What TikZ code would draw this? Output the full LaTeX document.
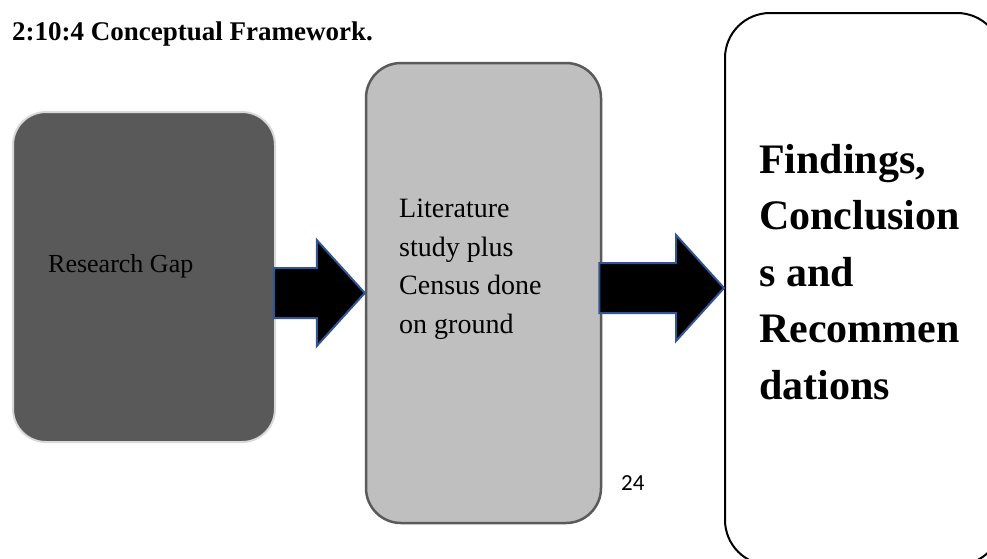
\documentclass[tikz,border=0pt]{standalone}
\usepackage{fontspec}
\setmainfont{Liberation Serif}
\newfontfamily\pagenumfont{Carlito}
\usetikzlibrary{calc}

\definecolor{gapfill}{HTML}{595959}
\definecolor{gapline}{HTML}{D9D9D9}
\definecolor{litfill}{HTML}{BFBFBF}
\definecolor{litline}{HTML}{5A5A5A}
\definecolor{arrowline}{HTML}{2F5597}

\tikzset{
    panel/.style={draw, rounded corners=#1, inner sep=0pt, line width=2pt},
    blockarrow/.style={fill=black, draw=arrowline, line width=2pt, line join=miter},
}

% block arrow from tail coordinate #1 to tip coordinate #2
\newcommand{\blockarrow}[2]{%
    \filldraw[blockarrow] ($(#1)+(0,-25)$) -- ($(#2)+(-48,-25)$) -- ($(#2)+(-48,-53)$)
        -- (#2) -- ($(#2)+(-48,53)$) -- ($(#2)+(-48,25)$) -- ($(#1)+(0,25)$) -- cycle;}

\begin{document}
\begin{tikzpicture}[x=1pt, y=-1pt]
        \useasboundingbox (0,0) rectangle (987,558);
        \clip (0,0) rectangle (987,558);

        \node[anchor=base west, inner sep=0pt, font=\bfseries\fontsize{27}{32}\selectfont] (title) at (12, 40) {2:10:4 Conceptual Framework.};

        \node[panel=33pt, fill=gapfill, draw=gapline, minimum width=262pt, minimum height=330pt] (gap) at (144, 277) {};
        \node[panel=35pt, fill=litfill, draw=litline, line width=2.5pt, minimum width=235pt, minimum height=460pt] (lit) at (483.5, 293) {};
        \node[panel=45pt, fill=white, draw=black, minimum width=277pt, minimum height=552pt] (fin) at (863.5, 289) {};

        \node[anchor=base west, inner sep=0pt, font=\fontsize{26}{32}\selectfont] (gaptext) at (48, 272) {Research Gap};
        \node[anchor=north west, inner sep=0pt, align=left, font=\fontsize{28}{38.5}\selectfont] (littext) at (399, 199) {Literature\\study plus\\Census done\\on ground};
        \node[anchor=north west, inner sep=0pt, align=left, font=\bfseries\fontsize{42}{56.5}\selectfont] (fintext) at (759, 144) {Findings,\\Conclusion\\s and\\Recommen\\dations};

        \node[anchor=base west, inner sep=0pt, font=\pagenumfont\fontsize{23}{26}\selectfont] (pagenum) at (621, 490) {24};

        \coordinate (a1s) at ($(gap.east |- lit.center)+(-2,0)$);
        \coordinate (a1t) at (lit.west);
        \blockarrow{a1s}{a1t}

        \coordinate (a2s) at ($(lit.east)+(-3,-5)$);
        \coordinate (a2t) at (fin.west |- a2s);
        \blockarrow{a2s}{a2t}

\end{tikzpicture}
\end{document}
